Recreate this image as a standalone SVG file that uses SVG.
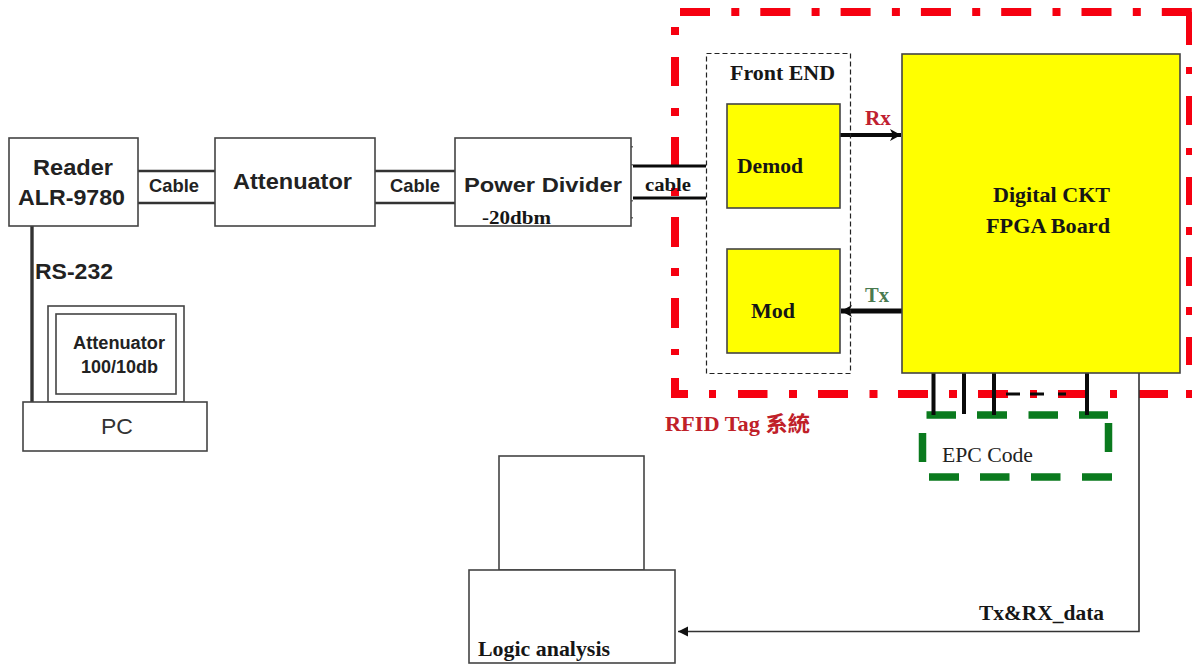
<svg xmlns="http://www.w3.org/2000/svg" width="1192" height="664" viewBox="0 0 1192 664">
<style>
.box{fill:#fff;stroke:#444;stroke-width:1.6}
.y{fill:#ff0;stroke:#444;stroke-width:1.6}
.w{fill:none;stroke:#333;stroke-width:2.4}
.k{fill:none;stroke:#0a0a0a;stroke-width:4}
.s{font-family:"Liberation Sans",Arial,sans-serif;font-weight:700;fill:#222}
.f{font-family:"Liberation Serif","Noto Sans CJK TC",serif;font-weight:700;fill:#161616}
.r{fill:none;stroke:#f60010;stroke-width:8}
.g{fill:none;stroke:#0a7a1e;stroke-width:7.5}
</style>
<defs>
<marker id="ah" markerUnits="userSpaceOnUse" markerWidth="14" markerHeight="14" refX="12" refY="7" orient="auto"><path d="M1 1L12 7L1 13L4 7Z" fill="#0a0a0a"/></marker>
<marker id="ah2" markerUnits="userSpaceOnUse" markerWidth="12" markerHeight="12" refX="11" refY="6" orient="auto"><path d="M1 1L11 6L1 11Z" fill="#111"/></marker>
</defs>
<rect width="1192" height="664" fill="#fff"/>
<g id="tag-boundary">
<path class="r" d="M680 12H1192" stroke-dasharray="30 21.3 8 21"/>
<path class="r" d="M1190 12V45M1190 67V74M1190 96V125M1190 148V155M1190 177V205M1190 227V235M1190 257V286M1190 307V315M1190 337V365"/>
<path class="r" d="M675 27V35M675 57V86M675 108V116M675 137V166M675 188V196M675 217V247M675 268V276M675 298V328M675 349V355M675 378V394H688M709 394H716M738 394H767.500M789 394H797M818 394H848M869.500 394H877.500M898 394H928M949 394H957M978 394H1008M1030 394H1037M1058 394H1087M1110 394H1117M1139 394H1168M1186 394H1192"/>
</g>
<g id="epc-boundary">
<path class="g" d="M926.500 415H956M977 415H1007M1028.500 415H1058M1079 415H1108M929 477H959M980 477H1009.500M1031 477H1060.500M1082 477H1112M922.500 433V462M1108.500 423V452"/>
</g>
<g id="connectors">
<path class="w" d="M138 171H215M138 203H215M375 171H455M375 203H455"/>
<path class="w" d="M32 226V402" style="stroke-width:3.400"/>
<path class="k" d="M633 166H706M633 198H706" style="stroke-width:3"/>
<path class="k" d="M840 135H901" marker-end="url(#ah)"/>
<path class="k" d="M902 311H841" marker-end="url(#ah)" style="stroke-width:5"/>
<path class="k" d="M933.500 373V415M964 373V414M994 373V415M1087 373V415"/>
<path class="k" d="M1006 394H1020M1030 394H1044M1058 394H1066" style="stroke-width:3"/>
<path d="M1139 373V631.500H678" fill="none" stroke="#333" stroke-width="1.600" marker-end="url(#ah2)"/>
</g>
<g id="reader"><rect class="box" x="9" y="138" width="129" height="88"/>
<text class="s" x="33" y="175" font-size="22" textLength="80" lengthAdjust="spacingAndGlyphs">Reader</text>
<text class="s" x="18" y="205" font-size="22" textLength="107" lengthAdjust="spacingAndGlyphs">ALR-9780</text></g>
<g id="attenuator"><rect class="box" x="215" y="138" width="160" height="88"/>
<text class="s" x="233" y="189" font-size="22" textLength="119" lengthAdjust="spacingAndGlyphs">Attenuator</text></g>
<g id="power-divider"><rect class="box" x="455" y="138" width="176" height="88"/>
<path d="M632 146v1.500M632 164v1.500M632 200v1.500M632 217v1.500" stroke="#444" stroke-width="1.500"/>
<text class="s" x="464" y="192" font-size="21" textLength="158" lengthAdjust="spacingAndGlyphs">Power Divider</text>
<text class="f" x="482" y="224" font-size="19.500" textLength="69" lengthAdjust="spacingAndGlyphs">-20dbm</text></g>
<g id="labels">
<text class="s" x="149" y="192" font-size="19" textLength="50" lengthAdjust="spacingAndGlyphs">Cable</text>
<text class="s" x="390" y="192" font-size="19" textLength="50" lengthAdjust="spacingAndGlyphs">Cable</text>
<text class="f" x="645" y="191" font-size="18.700" textLength="46" lengthAdjust="spacingAndGlyphs">cable</text>
<text class="s" x="35" y="279" font-size="22" textLength="78" lengthAdjust="spacingAndGlyphs">RS-232</text>
<text class="f" x="865" y="125" font-size="21" textLength="26" lengthAdjust="spacingAndGlyphs" style="fill:#c02030">Rx</text>
<text class="f" x="865" y="301.500" font-size="21" textLength="24" lengthAdjust="spacingAndGlyphs" style="fill:#4a7a50">Tx</text>
<text class="f" x="665" y="431" font-size="21" textLength="145" lengthAdjust="spacingAndGlyphs" style="fill:#c02028">RFID Tag 系統</text>
<text class="f" x="979" y="620" font-size="21" textLength="125" lengthAdjust="spacingAndGlyphs">Tx&amp;RX_data</text>
</g>
<g id="front-end"><rect x="706.500" y="53.500" width="144" height="320" fill="none" stroke="#222" stroke-width="1.200" stroke-dasharray="5 3"/>
<text class="f" x="730" y="80" font-size="20.500" textLength="105" lengthAdjust="spacingAndGlyphs">Front END</text></g>
<g id="demod"><rect class="y" x="727" y="104" width="113" height="104"/>
<text class="f" x="737" y="173" font-size="21.500" textLength="66" lengthAdjust="spacingAndGlyphs">Demod</text></g>
<g id="mod"><rect class="y" x="727" y="249" width="113" height="104"/>
<text class="f" x="751" y="318" font-size="21.500" textLength="44" lengthAdjust="spacingAndGlyphs">Mod</text></g>
<g id="fpga"><rect class="y" x="902" y="54" width="278" height="319"/>
<text class="f" x="993" y="202" font-size="21.500" textLength="117" lengthAdjust="spacingAndGlyphs">Digital CKT</text>
<text class="f" x="986" y="233" font-size="21.500" textLength="124" lengthAdjust="spacingAndGlyphs">FPGA Board</text></g>
<g id="epc-code"><text x="942" y="462" font-family="'Liberation Serif',serif" font-size="21" fill="#222" textLength="91" lengthAdjust="spacingAndGlyphs">EPC Code</text></g>
<g id="pc"><rect class="box" x="48" y="306" width="136" height="96"/><rect class="box" x="56" y="314" width="120" height="80"/>
<text class="s" x="73" y="349" font-size="18" textLength="92" lengthAdjust="spacingAndGlyphs">Attenuator</text>
<text class="s" x="81" y="373" font-size="18.500" textLength="77" lengthAdjust="spacingAndGlyphs">100/10db</text>
<rect class="box" x="23" y="402" width="184" height="49"/>
<text x="101" y="434" font-family="'Liberation Sans',sans-serif" font-size="22.500" fill="#333" textLength="32" lengthAdjust="spacingAndGlyphs">PC</text></g>
<g id="logic-analysis"><rect class="box" x="499" y="456" width="145" height="114"/><rect class="box" x="469" y="570" width="206" height="93"/>
<text class="f" x="478" y="656" font-size="21.500" textLength="132" lengthAdjust="spacingAndGlyphs">Logic analysis</text></g>
</svg>
